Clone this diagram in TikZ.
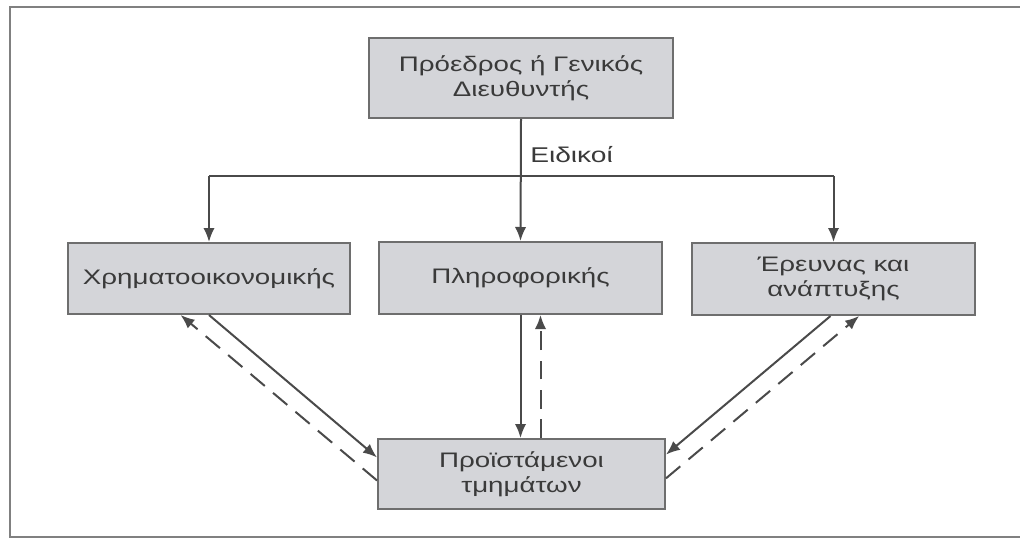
\documentclass[tikz,border=0pt]{standalone}
\usepackage{fontspec}
\setmainfont{Liberation Sans}
\newfontfamily\boxfont[FakeStretch=1.32]{Liberation Sans}
\usetikzlibrary{arrows.meta,calc}
\definecolor{boxfill}{HTML}{D4D5D9}
\definecolor{boxline}{HTML}{6E6E6E}
\definecolor{conn}{HTML}{4A4A4A}
\definecolor{txt}{HTML}{3A3A3A}
\definecolor{frame}{HTML}{808080}
\begin{document}
\begin{tikzpicture}[x=0.75pt,y=-0.75pt,
  box/.style={draw=boxline, fill=boxfill, line width=1.5pt, inner sep=0pt,
    text=txt, align=center, font=\boxfont\fontsize{15.75}{19}\selectfont},
  lbl/.style={text=txt, inner sep=0pt, font=\boxfont\fontsize{16}{19}\selectfont},
  conn/.style={draw=conn, line width=1.5pt, -{Latex[length=10.5pt,width=8.5pt]}},
  plainline/.style={draw=conn, line width=1.5pt},
  dasharrow/.style={draw=conn, line width=1.5pt, dash pattern=on 14pt off 8pt, -{Latex[length=10.5pt,width=8.5pt]}},
  frm/.style={draw=frame, line width=1.8pt}]
\useasboundingbox (0,0) rectangle (1020,539);
\fill[white] (0,0) rectangle (1020,539);
% outer frame
\coordinate (f1) at (1020,7);
\coordinate (f2) at (10,7);
\coordinate (f3) at (10,537);
\coordinate (f4) at (1020,537);
\draw[frm] (f1) -- (f2) -- (f3) -- (f4);
% boxes (sizes in pt = px * 0.75)
\node[box, minimum width=228pt, minimum height=60pt] (pres) at (521,78) {Πρόεδρος ή Γενικός\\Διευθυντής};
\node[box, minimum width=211.5pt, minimum height=53.25pt] (fin) at (209,278.5) {Χρηματοοικονομικής};
\node[box, minimum width=212.25pt, minimum height=54pt] (inf) at (520.5,278) {Πληροφορικής};
\node[box, minimum width=212.25pt, minimum height=54pt] (rnd) at (833.5,279) {Έρευνας και\\ανάπτυξης};
\node[box, minimum width=215.25pt, minimum height=52.5pt] (heads) at (521.5,474) {Προϊστάμενοι\\τμημάτων};
\node[lbl, anchor=west] (eid) at (530,155) {Ειδικοί};
% top distribution
\coordinate (j) at (pres.south |- 0,176);
\draw[conn] (pres.south) -- (inf.north);
\draw[plainline] (fin.north |- j) -- (rnd.north |- j);
\draw[conn] (fin.north |- j) -- (fin.north);
\draw[conn] (rnd.north |- j) -- (rnd.north);
% left pair
\draw[conn] (fin.south) -- ($(heads.north west)!0.27!(heads.south west)$);
\draw[dasharrow] ($(heads.north west)!0.59!(heads.south west)$) -- ($(fin.south west)!0.40!(fin.south east)$);
% middle pair
\draw[conn] (inf.south) -- (inf.south |- heads.north);
\draw[dasharrow] ($(inf.south |- heads.north)+(20,0)$) -- ($(inf.south)+(20,0)$);
% right pair
\draw[conn] ($(rnd.south)+(-3,0)$) -- ($(heads.north east)!0.23!(heads.south east)$);
\draw[dasharrow] ($(heads.north east)!0.56!(heads.south east)$) -- ($(rnd.south west)!0.59!(rnd.south east)$);
\end{tikzpicture}
\end{document}
